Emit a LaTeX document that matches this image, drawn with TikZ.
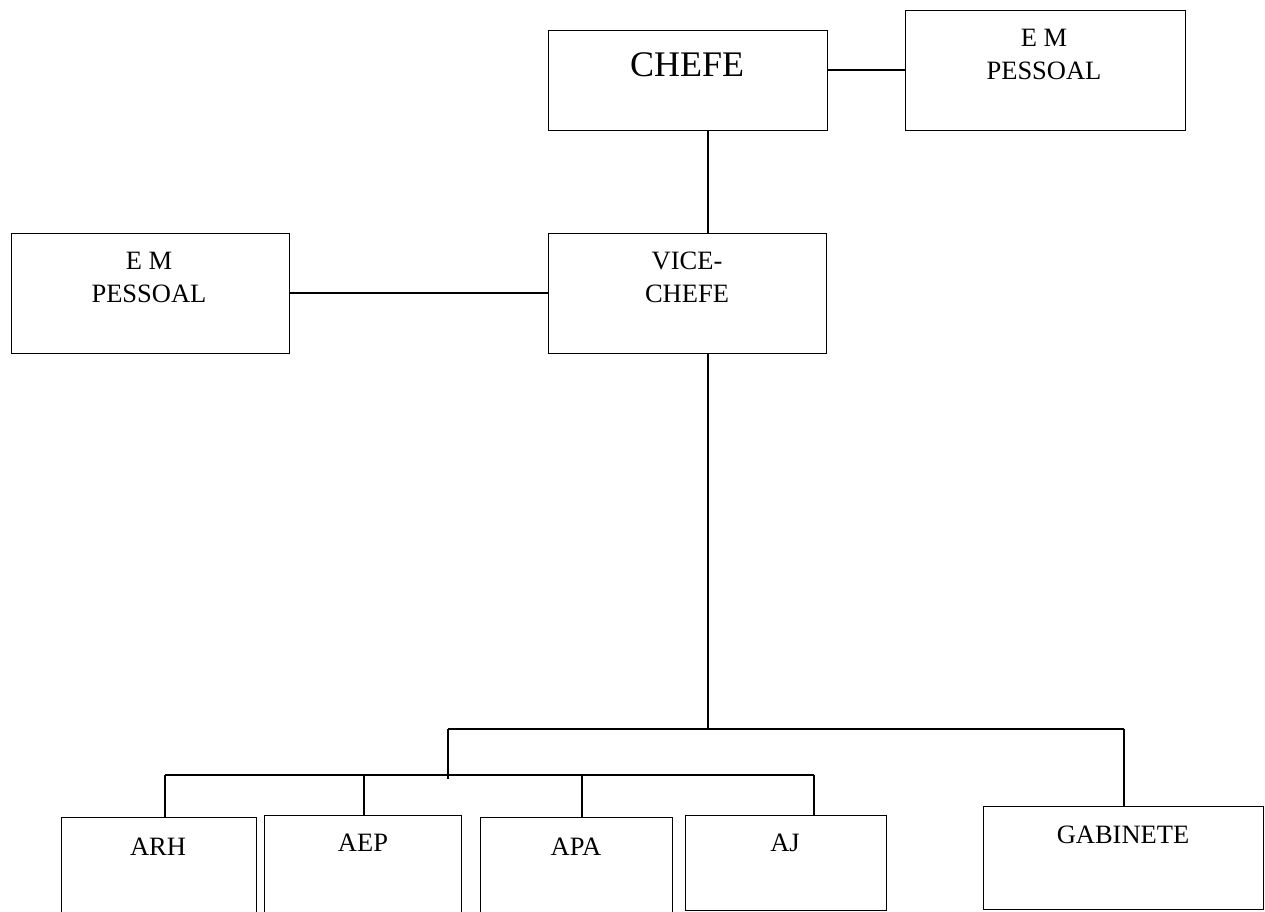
\documentclass[tikz,border=0pt]{standalone}
\usepackage{fontspec}
\setmainfont{Liberation Serif}
\begin{document}
\begin{tikzpicture}[x=1pt,y=-1pt,
  box/.style={draw=black,line width=1.4pt,rectangle,inner sep=0pt,anchor=north west},
  lbl/.style={inner sep=0pt,anchor=base,align=center,font=\fontsize{26.5}{33}\selectfont},
  biglbl/.style={inner sep=0pt,anchor=base,font=\fontsize{36}{40}\selectfont},
  conn/.style={draw=black,line width=1.4pt}]
\clip (0,0) rectangle (1265,911);
\useasboundingbox (0,0) rectangle (1265,911);
% top row
\node[box,minimum width=279pt,minimum height=100pt] (chefe) at (548,30) {};
\node[biglbl] (chefeT) at (687,76) {CHEFE};
\node[box,minimum width=280pt,minimum height=120pt] (emA) at (905,10) {};
\node[lbl] (emAT) at (1044,79) {E M\\PESSOAL};
% second row
\node[box,minimum width=278pt,minimum height=120pt] (vice) at (548,233) {};
\node[lbl] (viceT) at (687,302) {VICE-\\CHEFE};
\node[box,minimum width=278pt,minimum height=120pt] (emB) at (11,233) {};
\node[lbl] (emBT) at (149,302) {E M\\PESSOAL};
% bottom row
\node[box,minimum width=195pt,minimum height=130pt] (arh) at (61,817) {};
\node[lbl] (arhT) at (158,855) {ARH};
\node[box,minimum width=197pt,minimum height=130pt] (aep) at (264,815) {};
\node[lbl] (aepT) at (363,851) {AEP};
\node[box,minimum width=192pt,minimum height=130pt] (apa) at (480,817) {};
\node[lbl] (apaT) at (576,855) {APA};
\node[box,minimum width=201pt,minimum height=95pt] (aj) at (685,815) {};
\node[lbl] (ajT) at (785,851) {AJ};
\node[box,minimum width=280pt,minimum height=103pt] (gab) at (983,806) {};
\node[lbl] (gabT) at (1123,843) {GABINETE};
% junction coordinates
\coordinate (j1) at (708,729);
\coordinate (jL) at (448,729);
\coordinate (jR) at (1124,729);
\coordinate (jLb) at (448,779);
\coordinate (hL) at (165,775);
\coordinate (hR) at (814,775);
% connectors
\draw[conn] (chefe.east |- 0,70) -- (emA.west |- 0,70);
\draw[conn] (chefe.south -| 708,0) -- (vice.north -| 708,0);
\draw[conn] (emB.east |- 0,293) -- (vice.west |- 0,293);
\draw[conn] (vice.south -| 708,0) -- (j1);
\draw[conn] (jL) -- (jR);
\draw[conn] (jL) -- (jLb);
\draw[conn] (jR) -- (gab.north -| jR);
\draw[conn] (hL) -- (hR);
\draw[conn] (hL) -- (arh.north -| hL);
\draw[conn] (364,775) -- (aep.north -| 364,0);
\draw[conn] (582,775) -- (apa.north -| 582,0);
\draw[conn] (hR) -- (aj.north -| hR);
\end{tikzpicture}
\end{document}
